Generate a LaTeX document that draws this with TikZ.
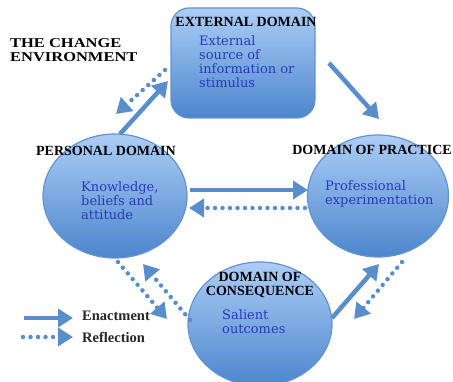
\documentclass[tikz,border=0pt]{standalone}
\usepackage{fontspec}
\setmainfont{DejaVu Serif}
\newfontfamily\titlefont{Liberation Serif}
\newfontfamily\widefont{Liberation Serif}[FakeStretch=1.22]
\usetikzlibrary{shapes.geometric,arrows.meta}
\definecolor{arrowblue}{RGB}{88,142,204}
\definecolor{edgeblue}{RGB}{98,148,208}
\definecolor{filltop}{RGB}{172,205,246}
\definecolor{fillbot}{RGB}{76,134,205}
\definecolor{bodyblue}{RGB}{40,58,188}
\begin{document}
\begin{tikzpicture}[x=1pt,y=-1pt,
  domainshape/.style={draw=edgeblue, line width=1.2pt, top color=filltop, bottom color=fillbot},
  domaintitle/.style={font=\titlefont\bfseries\fontsize{14}{14}\selectfont, text=black, align=center, inner sep=0pt},
  envtitle/.style={font=\widefont\bfseries\fontsize{13.5}{14}\selectfont, text=black, align=left, inner sep=0pt, anchor=west},
  bodytext/.style={font=\fontsize{13}{14}\selectfont, text=bodyblue, align=left, inner sep=0pt, anchor=west},
  legendtext/.style={font=\titlefont\bfseries\fontsize{14.5}{14}\selectfont, text=black!85, inner sep=0pt, anchor=west},
  enact/.style={draw=arrowblue, line width=4.5pt, -{Triangle[length=15pt,width=18pt]}},
  reflect/.style={enact, dash pattern=on 0pt off 7.5pt, line cap=round}
]
\useasboundingbox (0,0) rectangle (453,382);

% shapes
\node[domainshape, rectangle, rounded corners=18pt, minimum width=144pt, minimum height=110pt] (ext) at (243,63) {};
\node[domainshape, ellipse, minimum width=144pt, minimum height=124pt] (pd) at (115,196) {};
\node[domainshape, ellipse, minimum width=141pt, minimum height=122pt] (pr) at (378,196) {};
\node[domainshape, ellipse, minimum width=144pt, minimum height=124pt] (cq) at (260,324) {};

% titles
\node[envtitle] (env) at (10,50) {THE CHANGE\\ENVIRONMENT};
\node[domaintitle] (extt) at (246,22) {EXTERNAL DOMAIN};
\node[domaintitle] (pdt) at (106,151) {PERSONAL DOMAIN};
\node[domaintitle] (prt) at (372,150) {DOMAIN OF PRACTICE};
\node[domaintitle] (cqt) at (260,285) {DOMAIN OF\\CONSEQUENCE};

% body texts
\node[bodytext] (extb) at (199,62) {External\\source of\\information or\\stimulus};
\node[bodytext] (pdb) at (81,201) {Knowledge,\\beliefs and\\attitude};
\node[bodytext] (prb) at (325,194) {Professional\\experimentation};
\node[bodytext] (cqb) at (222,322) {Salient\\outcomes};

% connector end points
\coordinate (pe1) at (120,134); \coordinate (pe2) at (168,81);
\coordinate (ep1) at (165,70);  \coordinate (ep2) at (116,114);
\coordinate (ex1) at (329,63);  \coordinate (ex2) at (379,119);
\coordinate (pp1) at (190,190); \coordinate (pp2) at (308,190);
\coordinate (rp1) at (305,208); \coordinate (rp2) at (189,208);
\coordinate (pc1) at (118,262); \coordinate (pc2) at (167,319);
\coordinate (cp1) at (190,320); \coordinate (cp2) at (143,264);
\coordinate (cq1) at (332,318); \coordinate (cq2) at (379,264);
\coordinate (qc1) at (402,262); \coordinate (qc2) at (354,319);

\draw[enact] (pe1) -- (pe2);
\draw[reflect] (ep1) -- (ep2);
\draw[enact] (ex1) -- (ex2);
\draw[enact] (pp1) -- (pp2);
\draw[reflect] (rp1) -- (rp2);
\draw[reflect] (pc1) -- (pc2);
\draw[reflect] (cp1) -- (cp2);
\draw[enact] (cq1) -- (cq2);
\draw[reflect] (qc1) -- (qc2);

% legend
\coordinate (l1a) at (24,318); \coordinate (l1b) at (73,318);
\coordinate (l2a) at (23,337); \coordinate (l2b) at (73,337);
\draw[enact] (l1a) -- (l1b);
\draw[reflect] (l2a) -- (l2b);
\node[legendtext] (lg1) at (82,316) {Enactment};
\node[legendtext] (lg2) at (82,337) {Reflection};
\end{tikzpicture}
\end{document}
